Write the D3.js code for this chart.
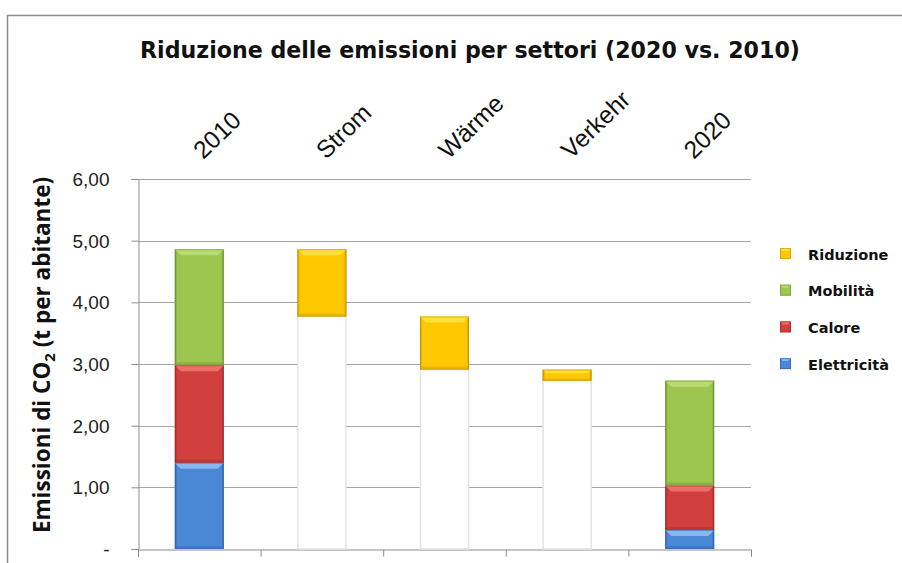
<!DOCTYPE html>
<html>
<head>
<meta charset="utf-8">
<script src="https://cdn.jsdelivr.net/npm/d3@7"></script>
<style>
  body { margin: 0; background: #fff; }
  svg { display: block; }
</style>
</head>
<body>
<div id="chart"></div>
<script>
// categories along the x axis
const CATEGORIES = ["2010", "Strom", "Wärme", "Verkehr", "2020"];
// stacked series (t CO2 per inhabitant); "base" is the invisible carrier of the waterfall
const BASE        = [0,    3.77, 2.91, 2.73, 0];
const ELETTRICITA = [1.40, 0,    0,    0,    0.31];
const CALORE      = [1.58, 0,    0,    0,    0.72];
const MOBILITA    = [1.88, 0,    0,    0,    1.70];
const RIDUZIONE   = [0,    1.09, 0.86, 0.18, 0];
const Y_TICKS = [0, 1, 2, 3, 4, 5, 6];

const SERIES = [
  { key: "base", name: null, values: BASE },
  { key: "el", name: "Elettricità", values: ELETTRICITA, color: "#4a88d6", light: "#86b8ef", dark: "#2f62a6" },
  { key: "ca", name: "Calore", values: CALORE, color: "#d23f3f", light: "#ec7068", dark: "#9e2b2b" },
  { key: "mo", name: "Mobilità", values: MOBILITA, color: "#9cc64f", light: "#b8dc72", dark: "#6f9233" },
  { key: "ri", name: "Riduzione", values: RIDUZIONE, color: "#ffc800", light: "#ffdf3a", dark: "#c29500" }
];

const W = 902, H = 563;
const margin = { top: 179, left: 138, right: 151, bottom: 14 };
const width = W - margin.left - margin.right;   // 613
const height = H - margin.top - margin.bottom;  // 370

const svg = d3.select("#chart").append("svg")
  .attr("width", W).attr("height", H);

// outer chart frame
svg.append("rect")
  .attr("x", 7.5).attr("y", 15.5)
  .attr("width", W).attr("height", H)
  .attr("fill", "#fff")
  .attr("stroke", "#8c8c8c")
  .attr("stroke-width", 1.5);

// title, fitted to the reference width
const title = svg.append("text")
  .attr("x", 470).attr("y", 58)
  .attr("text-anchor", "middle")
  .style("font-family", "'DejaVu Sans', Verdana, sans-serif")
  .style("font-weight", "bold")
  .style("font-size", "20px")
  .attr("fill", "#111")
  .text("Riduzione delle emissioni per settori (2020 vs. 2010)");
const tw = title.node().getComputedTextLength();
title.style("font-size", (20 * 660 / tw).toFixed(2) + "px");

const g = svg.append("g")
  .attr("transform", `translate(${margin.left},${margin.top})`);

const x = d3.scaleBand()
  .domain(CATEGORIES)
  .range([0, width])
  .paddingInner(0.6)
  .paddingOuter(0.3);

const y = d3.scaleLinear()
  .domain([0, 6])
  .range([height, 0]);

// gridlines
g.append("g")
  .selectAll("line")
  .data(Y_TICKS.slice(1))
  .join("line")
  .attr("x1", 0).attr("x2", width)
  .attr("y1", d => Math.round(y(d)) + 0.5)
  .attr("y2", d => Math.round(y(d)) + 0.5)
  .attr("stroke", "#a6a6a6")
  .attr("stroke-width", 1);

// y axis
const yAxis = g.append("g")
  .attr("transform", "translate(0.5,0)")
  .call(d3.axisLeft(y)
    .tickValues(Y_TICKS)
    .tickSize(7)
    .tickPadding(22)
    .tickFormat(d => d === 0 ? "-   " : d3.format(".2f")(d).replace(".", ",")));
yAxis.select(".domain").attr("stroke", "#8c8c8c");
yAxis.selectAll(".tick line").attr("stroke", "#8c8c8c");
yAxis.selectAll(".tick text")
  .style("font-family", "'Liberation Sans', Arial, sans-serif")
  .style("font-size", "19px")
  .attr("fill", "#222")
  .attr("dy", "0.35em");

// x axis (baseline with boundary ticks)
const xb = d3.scaleLinear().domain([0, CATEGORIES.length]).range([0, width]);
const xAxis = g.append("g")
  .attr("transform", `translate(0,${height + 0.5})`)
  .call(d3.axisBottom(xb).ticks(CATEGORIES.length).tickSize(7).tickFormat(""));
xAxis.select(".domain").attr("stroke", "#8c8c8c");
xAxis.selectAll(".tick line").attr("stroke", "#8c8c8c");

// stack the series
const table = CATEGORIES.map((c, i) => {
  const row = { cat: c };
  SERIES.forEach(s => { row[s.key] = s.values[i]; });
  return row;
});
const stack = d3.stack().keys(SERIES.map(s => s.key));
const layers = stack(table);

// gradients for a soft bevel look
const defs = svg.append("defs");
SERIES.filter(s => s.color).forEach(s => {
  const grad = defs.append("linearGradient")
    .attr("id", "grad-" + s.key)
    .attr("x1", 0).attr("x2", 1).attr("y1", 0).attr("y2", 0);
  grad.append("stop").attr("offset", "0%").attr("stop-color", s.dark);
  grad.append("stop").attr("offset", "5%").attr("stop-color", s.color);
  grad.append("stop").attr("offset", "95%").attr("stop-color", s.color);
  grad.append("stop").attr("offset", "100%").attr("stop-color", s.dark);
});

const bw = x.bandwidth();
layers.forEach((layer, li) => {
  const s = SERIES[li];
  layer.forEach((d, i) => {
    const v = d[1] - d[0];
    if (v <= 0) return;
    const x0 = x(CATEGORIES[i]);
    const yTop = y(d[1]);
    const yBot = y(d[0]);
    const h = yBot - yTop;
    if (!s.color) {
      // invisible carrier bar: white with faint outline
      g.append("rect")
        .attr("x", x0 + 0.5).attr("y", yTop)
        .attr("width", bw - 1).attr("height", h)
        .attr("fill", "#fff")
        .attr("stroke", "#e2e2e2")
        .attr("stroke-width", 1.5);
      return;
    }
    const bar = g.append("g").attr("class", "bar");
    bar.append("rect")
      .attr("x", x0).attr("y", yTop)
      .attr("width", bw).attr("height", h)
      .attr("fill", `url(#grad-${s.key})`);
    const b = Math.min(6, h / 3);
    // top bevel
    bar.append("polygon")
      .attr("points", [[x0, yTop], [x0 + bw, yTop], [x0 + bw - b, yTop + b], [x0 + b, yTop + b]].join(" "))
      .attr("fill", s.light);
    // bottom bevel
    bar.append("polygon")
      .attr("points", [[x0, yBot], [x0 + bw, yBot], [x0 + bw - b / 2, yBot - b / 2], [x0 + b / 2, yBot - b / 2]].join(" "))
      .attr("fill", s.dark)
      .attr("opacity", 0.35);
    bar.append("rect")
      .attr("x", x0 + 0.5).attr("y", yTop + 0.5)
      .attr("width", bw - 1).attr("height", h - 1)
      .attr("fill", "none")
      .attr("stroke", s.dark)
      .attr("stroke-opacity", 0.6);
  });
});

// category labels above the plot, rotated
g.append("g")
  .selectAll("text")
  .data(CATEGORIES)
  .join("text")
  .attr("transform", d => `translate(${x(d) + bw / 2 + 4},${-19}) rotate(-44)`)
  .attr("text-anchor", "start")
  .style("font-family", "'Liberation Sans', Arial, sans-serif")
  .style("font-size", "24.5px")
  .attr("fill", "#111")
  .text(d => d);

// y axis title
const yt = svg.append("text")
  .attr("transform", "translate(50,355) rotate(-90)")
  .attr("text-anchor", "middle")
  .style("font-family", "'Open Sans', 'Liberation Sans', sans-serif")
  .style("font-weight", "bold")
  .style("font-size", "22.5px")
  .attr("fill", "#111");
yt.append("tspan").text("Emissioni di CO");
yt.append("tspan").attr("dy", 5).style("font-size", "15px").text("2");
yt.append("tspan").attr("dy", -5).text(" (t per abitante)");

// legend
const legendItems = SERIES.filter(s => s.name).slice().reverse();
const legend = svg.append("g").attr("transform", "translate(780,248)");
const li = legend.selectAll("g")
  .data(legendItems)
  .join("g")
  .attr("transform", (d, i) => `translate(0,${i * 36.7})`);
li.append("rect")
  .attr("width", 11).attr("height", 11)
  .attr("fill", d => `url(#grad-${d.key})`);
li.append("polygon")
  .attr("points", "0,0 11,0 8,3 3,3")
  .attr("fill", d => d.light);
li.append("rect")
  .attr("x", 0.5).attr("y", 0.5).attr("width", 10).attr("height", 10)
  .attr("fill", "none")
  .attr("stroke", d => d.dark)
  .attr("stroke-opacity", 0.6);
li.append("text")
  .attr("x", 28).attr("y", 11.5)
  .style("font-family", "'DejaVu Sans', Verdana, sans-serif")
  .style("font-weight", "bold")
  .style("font-size", "14.5px")
  .attr("fill", "#111")
  .text(d => d.name);
</script>
</body>
</html>
